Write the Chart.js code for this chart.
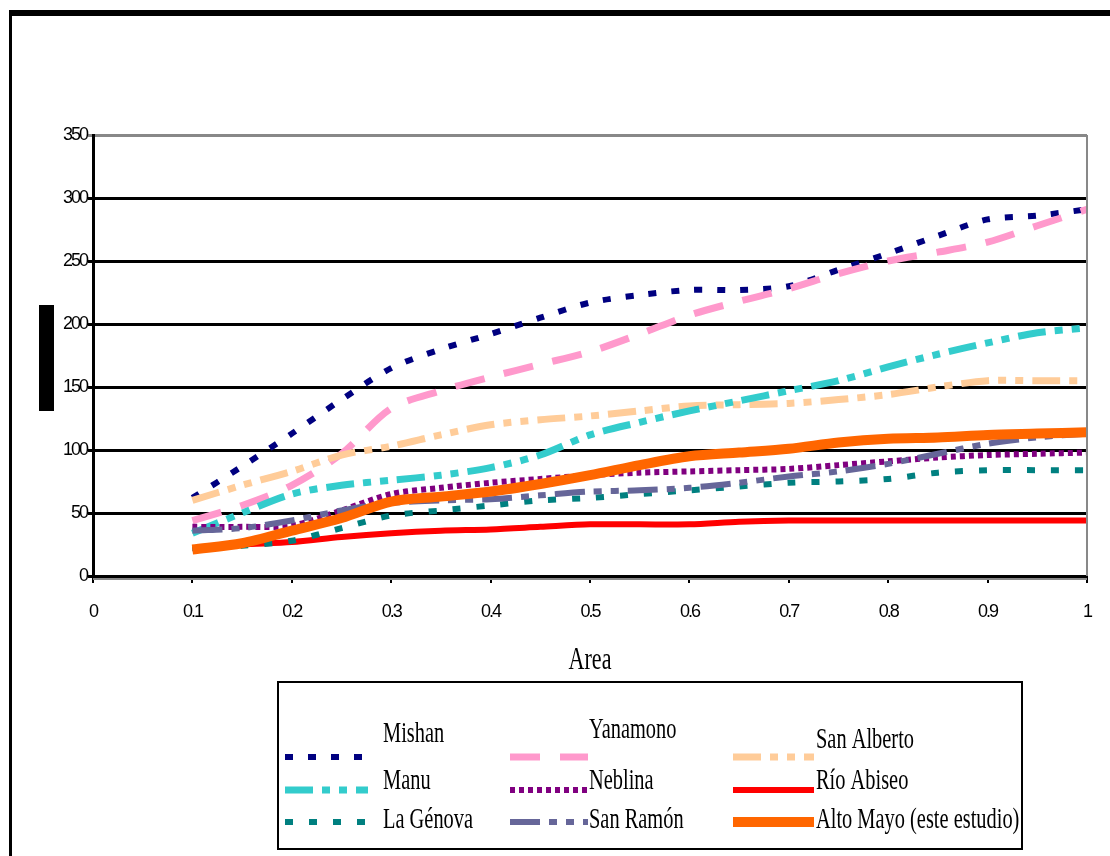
<!DOCTYPE html>
<html>
<head>
<meta charset="utf-8">
<script src="https://cdn.jsdelivr.net/npm/chart.js@4.4.1/dist/chart.umd.min.js"></script>
<style>
  html, body { margin: 0; padding: 0; background: #fff; }
  #wrap { width: 1110px; height: 856px; position: relative; }
</style>
</head>
<body>
<div id="wrap"><canvas id="speciesArea"></canvas></div>
<script>
// species accumulation vs. area
const area = [0.1, 0.15, 0.2, 0.25, 0.3, 0.35, 0.4, 0.45, 0.5, 0.55, 0.6, 0.65, 0.7, 0.75, 0.8, 0.85, 0.9, 0.95, 1.0];
const mishan     = [62, 87, 113, 140, 165, 180, 192, 205, 217, 223, 227, 227, 230, 243, 256, 270, 283, 286, 291];
const yanamono   = [44, 56, 72, 97, 133, 147, 158, 168, 178, 192, 207, 218, 228, 240, 250, 257, 265, 278, 291];
const sanAlberto = [60, 72, 83, 96, 103, 112, 120, 124, 127, 131, 135, 136, 137, 140, 144, 150, 155, 155, 155];
const manu       = [34, 50, 65, 72, 76, 80, 86, 96, 112, 122, 131, 139, 147, 155, 166, 176, 185, 193, 197];
const neblina    = [39, 39, 40, 52, 65, 70, 74, 77, 80, 82, 83, 84, 85, 88, 91, 94, 96, 97, 98];
const rioAbiseo  = [22, 25, 27, 31, 34, 36, 37, 39, 41, 41, 41, 43, 44, 44, 44, 44, 44, 44, 44];
const laGenova   = [22, 24, 28, 38, 48, 52, 56, 60, 62, 65, 68, 71, 74, 75, 77, 82, 84, 84, 84];
const sanRamon   = [36, 38, 44, 52, 58, 60, 61, 64, 67, 68, 70, 74, 79, 83, 89, 97, 105, 110, 113];
const altoMayo   = [21, 26, 36, 46, 59, 63, 67, 73, 80, 88, 95, 98, 101, 106, 109, 110, 112, 113, 114];

const seriesNames = ['Mishan', 'Yanamono', 'San Alberto', 'Manu', 'Neblina', 'Río Abiseo',
                     'La Génova', 'San Ramón', 'Alto Mayo (este estudio)'];
const xTickLabels = ['0', '0.1', '0.2', '0.3', '0.4', '0.5', '0.6', '0.7', '0.8', '0.9', '1'];
const xTitle = 'Area';

const seriesValues = [mishan, yanamono, sanAlberto, manu, neblina, rioAbiseo, laGenova, sanRamon, altoMayo];
const styles = [
    { color: '#000080', width: 6, dash: [8, 15] },
    { color: '#FF99CC', width: 7, dash: [30, 20] },
    { color: '#FFCC99', width: 7, dash: [28, 9, 8, 9, 8, 9] },
    { color: '#33CCCC', width: 7, dash: [28, 9, 8, 9, 8, 9] },
    { color: '#800080', width: 6, dash: [5, 4] },
    { color: '#FF0000', width: 6, dash: [] },
    { color: '#008080', width: 6, dash: [8, 16] },
    { color: '#666699', width: 6, dash: [30, 9, 8, 9, 8, 9] },
    { color: '#FF6600', width: 10, dash: [] }
];

function squeezeText(ctx, text, x, y, sx, align) {
    ctx.save();
    ctx.translate(x, y);
    ctx.scale(sx, 1);
    ctx.textAlign = align;
    ctx.fillText(text, 0, 0);
    ctx.restore();
}

// legend layout (3 x 3) - x of line start/end and text, y of line and text baseline
const legendCols = [{ l0: 285, l1: 368, t: 383 }, { l0: 510, l1: 588, t: 589 }, { l0: 733, l1: 814, t: 816 }];
const legendRows = [{ line: 757, text: [742, 738, 748] }, { line: 790, text: [789, 789, 789] }, { line: 822, text: [828, 828, 828] }];

const framePlugin = {
    id: 'frame',
    beforeDraw(chart) {
        // narrow tick labels like the original
        chart.ctx.letterSpacing = '-2px';
    },
    afterDraw(chart) {
        const ctx = chart.ctx;
        const ca = chart.chartArea;
        ctx.save();
        ctx.letterSpacing = '0px';
        ctx.fillStyle = '#000';
        ctx.fillRect(9, 10, 1101, 6);
        ctx.fillRect(9, 10, 3, 846);
        // y title (rendered as a solid block in the source)
        ctx.fillRect(39, 305, 15, 106);

        // plot area right edge + shadow under x axis
        ctx.strokeStyle = '#888';
        ctx.lineWidth = 2;
        ctx.beginPath();
        ctx.moveTo(ca.right, ca.top);
        ctx.lineTo(ca.right, ca.bottom);
        ctx.moveTo(ca.left, ca.bottom + 3);
        ctx.lineTo(ca.right, ca.bottom + 3);
        ctx.stroke();

        ctx.fillStyle = '#000';
        ctx.font = '32px "Liberation Serif"';
        ctx.textBaseline = 'alphabetic';
        squeezeText(ctx, xTitle, (ca.left + ca.right) / 2, 669, 0.69, 'center');

        // legend
        ctx.strokeStyle = '#000';
        ctx.lineWidth = 2;
        ctx.strokeRect(278, 682, 744, 167);
        chart.data.datasets.forEach((ds, i) => {
            const col = legendCols[i % 3];
            const row = legendRows[Math.floor(i / 3)];
            ctx.save();
            ctx.strokeStyle = ds.borderColor;
            ctx.lineWidth = ds.borderWidth;
            ctx.setLineDash(ds.borderDash);
            ctx.beginPath();
            ctx.moveTo(col.l0, row.line);
            ctx.lineTo(col.l1, row.line);
            ctx.stroke();
            ctx.restore();
            ctx.fillStyle = '#000';
            ctx.font = '30px "Liberation Serif"';
            squeezeText(ctx, ds.label, col.t, row.text[i % 3], 0.68, 'left');
        });
        ctx.restore();
    }
};

const datasets = seriesNames.map((name, i) => ({
    label: name,
    data: area.map((a, j) => ({ x: a, y: seriesValues[i][j] })),
    borderColor: styles[i].color,
    backgroundColor: styles[i].color,
    borderWidth: styles[i].width,
    borderDash: styles[i].dash,
    borderCapStyle: 'butt',
    pointRadius: 0,
    tension: 0.3,
    fill: false,
    order: seriesNames.length - i
}));

new Chart(document.getElementById('speciesArea'), {
    type: 'line',
    data: { datasets: datasets },
    options: {
        responsive: true,
        maintainAspectRatio: false,
        animation: false,
        layout: { padding: { left: 0, top: 135, right: 20, bottom: 230 } },
        plugins: {
            legend: { display: false },
            tooltip: { enabled: false }
        },
        scales: {
            x: {
                type: 'linear',
                min: 0,
                max: 1,
                afterFit: (scale) => { scale.height = 50; },
                ticks: {
                    stepSize: 0.1,
                    color: '#000',
                    padding: 18,
                    maxRotation: 0,
                    font: { family: '"Liberation Sans"', size: 18 },
                    callback: (value) => xTickLabels[Math.round(value * 10)]
                },
                grid: { drawOnChartArea: false, drawTicks: true, tickLength: 7, color: '#000', lineWidth: 2 },
                border: { color: '#000', width: 3 }
            },
            y: {
                min: 0,
                max: 350,
                afterFit: (scale) => { scale.width = 93; },
                ticks: {
                    stepSize: 50,
                    color: '#000',
                    padding: 1,
                    font: { family: '"Liberation Sans"', size: 18 }
                },
                grid: {
                    color: (c) => (c.tick && c.tick.value === 350 ? '#888' : '#000'),
                    lineWidth: 3,
                    tickLength: 5
                },
                border: { color: '#000', width: 3 }
            }
        }
    },
    plugins: [framePlugin]
});
</script>
</body>
</html>
